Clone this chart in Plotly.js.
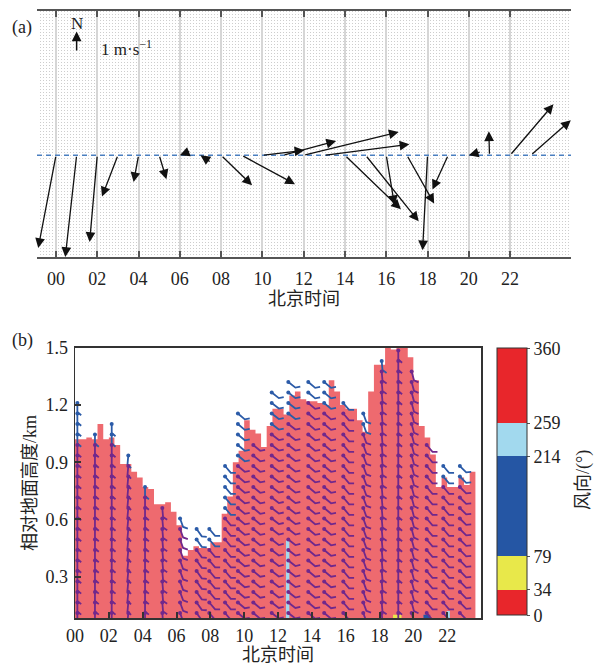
<!DOCTYPE html>
<html><head><meta charset="utf-8">
<script src="https://cdn.plot.ly/plotly-3.0.1.min.js"></script>
<style>html,body{margin:0;padding:0;background:#fff}#chart{width:600px;height:665px}</style>
</head><body><div id="chart"></div>
<script>
// ---------- Panel (a): hourly surface wind vectors (m/s) ----------
const hours = [0,1,2,3,4,5,6,7,8,9,10,11,12,13,14,15,16,17,18,19,20,21,22,23];
const windU = [-0.86,-0.55,-0.37,-0.77,-0.24,0.35,-0.53,-0.52,1.50,2.58,2.03,2.57,4.60,4.12,2.71,2.57,0.40,1.32,-0.24,-0.76,-0.60,-0.03,2.10,1.94];
const windV = [-4.49,-4.93,-4.20,-2.00,-1.30,-1.16,-0.21,0.35,-1.45,-1.40,0.24,0.69,1.13,0.53,-2.62,-3.20,-2.42,-2.34,-4.60,-1.66,-0.17,1.16,2.47,1.70];
const headAtHour = [0,0,0,0,0,0,1,1,0,0,0,0,0,0,0,0,0,0,0,0,1,0,0,0];
const tickHours = [0,2,4,6,8,10,12,14,16,18,20,22];
const tickLabels = ['00','02','04','06','08','10','12','14','16','18','20','22'];
const refArrowHour = 1, refArrowBase = 5, refArrowLen = 1;

// ---------- Panel (b): height of layer (km), 20-min steps ----------
const profileTime = [0,0.33,0.67,1,1.33,1.67,2,2.33,2.67,3,3.33,3.67,4,4.33,4.67,5,5.33,5.67,6,6.33,6.67,7,7.33,7.67,8,8.33,8.67,9,9.33,9.67,10,10.33,10.67,11,11.33,11.67,12,12.33,12.67,13,13.33,13.67,14,14.33,14.67,15,15.33,15.67,16,16.33,16.67,17,17.33,17.67,18,18.33,18.67,19,19.33,19.67,20,20.33,20.67,21,21.33,21.67,22,22.33,22.67,23,23.33,23.67];
const profileHeight = [1.02,1.02,1.03,1.02,1.10,1.02,1.03,0.99,0.89,0.89,0.85,0.82,0.77,0.76,0.68,0.68,0.69,0.64,0.57,0.41,0.44,0.46,0.45,0.45,0.48,0.48,0.63,0.72,0.90,0.96,1.12,1.07,1.05,0.98,1.09,1.18,1.18,1.15,1.25,1.27,1.23,1.22,1.22,1.21,1.20,1.33,1.27,1.20,1.18,1.18,1.12,1.06,1.27,1.41,1.41,1.52,1.49,1.52,1.52,1.45,1.33,1.09,1.03,0.94,0.77,0.82,0.77,0.77,0.82,0.78,0.85,0.85];
// other direction patches near the ground
const patchStart = [12.47,21.98,18.80,20.60];
const patchEnd   = [12.67,22.16,19.30,21.00];
const patchTop   = [0.49,0.12,0.10,0.10];
const patchDir   = [240,240,60,150];
// wind barbs: one column per profile time, gates in km
const barbTime = [0.14,1.18,2.17,3.15,4.14,5.16,6.21,7.19,7.94,8.87,9.63,10.54,11.63,12.61,13.79,14.73,15.86,17.04,18.13,19.11,19.90,20.79,21.77,22.75];
const barbTop  = [1.20,1.04,1.095,0.94,0.78,0.684,0.632,0.53,0.58,0.894,1.142,1.00,1.296,1.334,1.305,1.334,1.20,1.157,1.41,1.49,1.36,0.98,0.885,0.885];
const barbDir  = [180,180,180,185,180,175,160,145,140,140,130,130,128,128,130,130,140,160,175,180,165,140,140,135];
const gateHeights = [0.11,0.165,0.22,0.275,0.33,0.385,0.44,0.495,0.55,0.605,0.66,0.715,0.77,0.825,0.88,0.935,0.99,1.045,1.10,1.155,1.21,1.265,1.32,1.375,1.43,1.485];
// colour classes of wind direction (deg)
const dirBounds = [0,34,79,214,259,360];
const dirColors = ['#e8262b','#e8e84a','#2556a4','#a2d9ee','#e8262b'];

const W = 600, H = 665;
const serif = "'Liberation Serif', 'Noto Sans CJK SC', serif";
const fillRed = '#ee6a6f', BLUE = '#2b5ba8', PURPLE = '#70288c';

function dirColor(d){ for (let i=0;i<dirColors.length;i++){ if (d>=dirBounds[i] && d<dirBounds[i+1]) return dirColors[i]; } return dirColors[dirColors.length-1]; }

const layout = {
  width: W, height: H, margin:{l:0,r:0,t:0,b:0},
  paper_bgcolor:'#fff', plot_bgcolor:'#fff', showlegend:false,
  font:{family:serif, size:18, color:'#222'},
  xaxis:{domain:[37/600,571/600], range:[-0.92,24.95], anchor:'y',
    tickvals:tickHours, ticktext:tickLabels, ticks:'inside', ticklen:6, tickwidth:2, tickcolor:'#555',
    showline:true, linecolor:'#555', linewidth:2, mirror:'ticks',
    showgrid:true, gridcolor:'#d6d6d6', gridwidth:2, zeroline:false,
    minor:{dtick:0.1453, showgrid:true, gridcolor:'#cdcdcd', gridwidth:1, griddash:'1px,2px', ticks:''},
    tickfont:{size:18, family:serif}, ticklabelstandoff:4,
    title:{text:'北京时间', font:{size:18, family:serif}, standoff:2}},
  yaxis:{domain:[408/665,654/665], range:[-4.93,6.99], anchor:'x', showticklabels:false, ticks:'', showgrid:false, zeroline:false, showline:false},
  xaxis2:{domain:[75/600,481/600], range:[0,24], anchor:'y2',
    tickvals:tickHours, ticktext:tickLabels, ticks:'inside', ticklen:6, tickwidth:2, tickcolor:'#333',
    showline:true, linecolor:'#333', linewidth:1.5, mirror:true, showgrid:false, zeroline:false,
    tickfont:{size:18, family:serif}, ticklabelstandoff:1,
    title:{text:'北京时间', font:{size:18, family:serif}, standoff:5}},
  yaxis2:{domain:[46.7/665,317.3/665], range:[0.082,1.5], anchor:'x2',
    tickvals:[0.3,0.6,0.9,1.2,1.5], ticktext:['0.3','0.6','0.9','1.2','1.5'], ticks:'inside', ticklen:6, tickwidth:2, tickcolor:'#333',
    showline:true, linecolor:'#333', linewidth:1.5, mirror:true, showgrid:false, zeroline:false,
    tickfont:{size:18, family:serif}, ticklabelstandoff:2,
    title:{text:'相对地面高度/km', font:{size:18, family:serif}, standoff:4}},
  shapes:[{type:'line', xref:'x domain', yref:'y', x0:0, x1:1, y0:0, y1:0, line:{color:'#4a7fc0', width:1.6, dash:'5px,4px'}}],
  annotations:[]
};

// panel (a) arrows
hours.forEach((h,i)=>{
  const tx = headAtHour[i] ? h - windU[i] : h;
  const ty = headAtHour[i] ? -windV[i] : 0;
  layout.annotations.push({xref:'x', yref:'y', axref:'x', ayref:'y', x:tx+windU[i], y:ty+windV[i], ax:tx, ay:ty,
    text:'', showarrow:true, arrowhead:2, arrowsize:1.5, arrowwidth:1.3, arrowcolor:'#111', standoff:0, startstandoff:0});
});
layout.annotations.push({xref:'x', yref:'y', axref:'x', ayref:'y', x:refArrowHour, y:refArrowBase+refArrowLen, ax:refArrowHour, ay:refArrowBase,
  text:'', showarrow:true, arrowhead:2, arrowsize:1.3, arrowwidth:1.5, arrowcolor:'#111', standoff:0});
layout.annotations.push({xref:'x', yref:'y', x:refArrowHour, y:refArrowBase+refArrowLen, yanchor:'bottom', yshift:-4, text:'N', showarrow:false, font:{size:17, family:serif}});
layout.annotations.push({xref:'paper', yref:'paper', x:99/W, y:1-48/H, xanchor:'left', yanchor:'middle', text:'1 m·s<sup>−1</sup>', showarrow:false, font:{size:17, family:serif}});
layout.annotations.push({xref:'paper', yref:'paper', x:22/W, y:1-27/H, xanchor:'center', yanchor:'middle', text:'(a)', showarrow:false, font:{size:18, family:serif}});
layout.annotations.push({xref:'paper', yref:'paper', x:22/W, y:1-340/H, xanchor:'center', yanchor:'middle', text:'(b)', showarrow:false, font:{size:18, family:serif}});
layout.annotations.push({xref:'paper', yref:'paper', x:583/W, y:1-480/H, xanchor:'center', yanchor:'middle', text:'风向/(°)', textangle:-90, showarrow:false, font:{size:18, family:serif}});

const traces = [];
// red layer (step profile)
traces.push({type:'scatter', xaxis:'x2', yaxis:'y2', x:profileTime, y:profileHeight, mode:'lines', line:{shape:'hv', width:0, color:fillRed}, fill:'tozeroy', fillcolor:fillRed, hoverinfo:'skip'});
// other-direction patches
patchStart.forEach((s,i)=>{
  const b = layout.yaxis2.range[0];
  traces.push({type:'scatter', xaxis:'x2', yaxis:'y2', x:[s,patchEnd[i],patchEnd[i],s,s], y:[b,b,patchTop[i],patchTop[i],b], mode:'lines', line:{width:0}, fill:'toself', fillcolor:dirColor(patchDir[i]), hoverinfo:'skip'});
});

// wind barbs
const xa2 = layout.xaxis2, ya2 = layout.yaxis2;
const pxPerHour = (xa2.domain[1]-xa2.domain[0])*W/(xa2.range[1]-xa2.range[0]);
const pxPerKm = (ya2.domain[1]-ya2.domain[0])*H/(ya2.range[1]-ya2.range[0]);
const STAFF = 9, FEATHER = 5, FEATHER_ANGLE = 50;
function profileAt(t){ let idx=-1; for(let i=0;i<profileTime.length;i++){ if(profileTime[i]<=t) idx=i; } return idx>=0 ? profileHeight[idx] : 0; }
const seg = {in:{x:[],y:[]}, out:{x:[],y:[]}};
const dots = {x:[],y:[],c:[]};
barbTime.forEach((t,c)=>{
  gateHeights.forEach(h=>{
    if (h > barbTop[c] + 0.02) return;
    const inside = h < profileAt(t);
    const th = barbDir[c]*Math.PI/180;
    const x1 = t + STAFF*Math.sin(th)/pxPerHour, y1 = h + STAFF*Math.cos(th)/pxPerKm;
    const ph = (barbDir[c]-FEATHER_ANGLE)*Math.PI/180;
    const x2 = x1 + FEATHER*Math.sin(ph)/pxPerHour, y2 = y1 + FEATHER*Math.cos(ph)/pxPerKm;
    const k = inside ? 'in' : 'out';
    seg[k].x.push(t,x1,x2,null); seg[k].y.push(h,y1,y2,null);
    dots.x.push(t); dots.y.push(h); dots.c.push(inside?PURPLE:BLUE);
  });
});
traces.push({type:'scatter', xaxis:'x2', yaxis:'y2', x:seg.in.x, y:seg.in.y, mode:'lines', line:{color:PURPLE, width:1.8}, connectgaps:false, hoverinfo:'skip'});
traces.push({type:'scatter', xaxis:'x2', yaxis:'y2', x:seg.out.x, y:seg.out.y, mode:'lines', line:{color:BLUE, width:1.8}, connectgaps:false, hoverinfo:'skip'});
traces.push({type:'scatter', xaxis:'x2', yaxis:'y2', x:dots.x, y:dots.y, mode:'markers', marker:{size:4, color:dots.c}, hoverinfo:'skip'});

// colour bar for wind direction classes
const cs = [];
dirColors.forEach((col,i)=>{ cs.push([dirBounds[i]/360, col]); cs.push([dirBounds[i+1]/360, col]); });
traces.push({type:'scatter', xaxis:'x2', yaxis:'y2', x:[null], y:[null], mode:'markers',
  marker:{color:[0], cmin:0, cmax:360, colorscale:cs, showscale:true,
    colorbar:{x:497/W, xanchor:'left', y:1-481.7/H, yanchor:'middle', len:267, lenmode:'pixels', thickness:30, thicknessmode:'pixels',
      xpad:0, ypad:0, outlinewidth:1, outlinecolor:'#333', tickvals:dirBounds, ticktext:dirBounds.map(String), ticks:'outside', ticklen:3, tickcolor:'#555',
      tickfont:{size:18, family:serif, color:'#222'}}},
  hoverinfo:'skip'});
// empty trace on panel a to keep the axes
traces.push({type:'scatter', xaxis:'x', yaxis:'y', x:[null], y:[null], mode:'markers', hoverinfo:'skip'});

Plotly.newPlot('chart', traces, layout, {staticPlot:true});
</script></body></html>
